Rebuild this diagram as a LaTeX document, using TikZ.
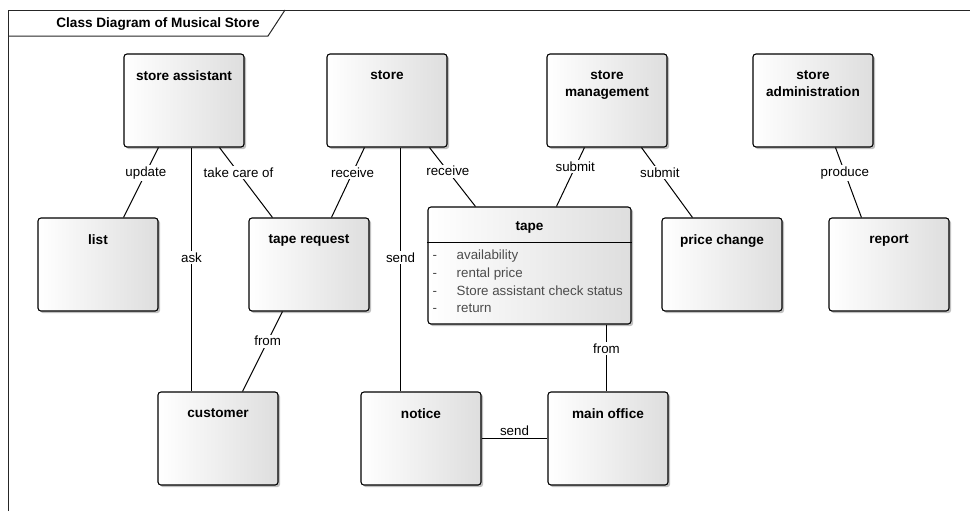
\documentclass[tikz,border=0pt]{standalone}
\usepackage{fontspec}
\setmainfont{Liberation Sans}
\usetikzlibrary{calc,shadows}

\tikzset{
  every picture/.style={x=0.75pt,y=-0.75pt},
  cls/.style={draw=black, line width=0.8pt, rounded corners=2.2pt,
    left color=white, right color=black!13,
    drop shadow={shadow xshift=1.6pt, shadow yshift=-1.6pt, fill=black!45, opacity=0.55},
    minimum width=90pt, minimum height=69.75pt, inner sep=0pt},
  clstitle/.style={anchor=north, inner sep=0pt, align=center,
    font=\bfseries\fontsize{10.2}{12.75}\selectfont},
  assoc/.style={draw=black, line width=0.75pt},
  lbl/.style={fill=white, inner sep=1.2pt, font=\fontsize{10}{12}\selectfont},
  attr/.style={anchor=base west, inner sep=0pt, text=black!70, font=\fontsize{10}{12}\selectfont},
  frameline/.style={draw=black!85, line width=0.75pt}
}

\begin{document}
\begin{tikzpicture}
\useasboundingbox (0,0) rectangle (970,511);

% diagram frame with its title tab
\draw[frameline] (8,511) -- (8,10) -- (970,10);
\draw[frameline] (8,36) -- (268,36) -- (285,10);
\node[font=\bfseries\fontsize{10.2}{12}\selectfont, inner sep=0pt] (frametitle) at (158,24) {Class Diagram of Musical Store};

% classes
\node[cls] (sa) at (184,100.5) {};
\node[clstitle] (satitle) at ($(sa.north)+(0,16.5)$) {store assistant};

\node[cls] (store) at (387,100.5) {};
\node[clstitle] (storetitle) at ($(store.north)+(0,16.5)$) {store};

\node[cls] (mgmt) at (607,100.5) {};
\node[clstitle] (mgmttitle) at ($(mgmt.north)+(0,16.5)$) {store\\management};

\node[cls] (admin) at (813,100.5) {};
\node[clstitle] (admintitle) at ($(admin.north)+(0,16.5)$) {store\\administration};

\node[cls] (list) at (98,264.5) {};
\node[clstitle] (listtitle) at ($(list.north)+(0,16.5)$) {list};

\node[cls] (treq) at (309,264.5) {};
\node[clstitle] (treqtitle) at ($(treq.north)+(0,16.5)$) {tape request};

\node[cls] (price) at (722,264.5) {};
\node[clstitle] (pricetitle) at ($(price.north)+(0,16.5)$) {price change};

\node[cls] (report) at (889,264.5) {};
\node[clstitle] (reporttitle) at ($(report.north)+(0,16.5)$) {report};

\node[cls] (cust) at (218,438.5) {};
\node[clstitle] (custtitle) at ($(cust.north)+(0,16.5)$) {customer};

\node[cls] (notice) at (421,438.5) {};
\node[clstitle] (noticetitle) at ($(notice.north)+(0,16.5)$) {notice};

\node[cls] (office) at (608,438.5) {};
\node[clstitle] (officetitle) at ($(office.north)+(0,16.5)$) {main office};

% tape class with its attribute compartment
\node[cls, minimum width=152.25pt, minimum height=87.75pt] (tape) at (529.5,265.5) {};
\node[clstitle] (tapetitle) at ($(tape.north)+(0,15)$) {tape};
\draw[line width=0.75pt] ($(tape.north west)+(0,36)$) -- ($(tape.north east)+(0,36)$);
\foreach \i/\t/\yy in {1/availability/53, 2/rental price/71, 3/Store assistant check status/89, 4/return/106}{
  \node[attr] (dash\i) at ($(tape.north west)+(5,\yy)$) {-};
  \node[attr] (attr\i) at ($(tape.north west)+(29,\yy)$) {\t};
}

% associations
\draw[assoc] ($(sa.south west)+(35,0)$) -- node[lbl, pos=0.36] {update} ($(list.north west)+(86,0)$);
\draw[assoc] ($(sa.south west)+(68,0)$) -- node[lbl, pos=0.45] {ask} ($(cust.north west)+(34,0)$);
\draw[assoc] ($(sa.south west)+(96,0)$) -- node[lbl, pos=0.36] {take care of} ($(treq.north west)+(24,0)$);
\draw[assoc] ($(store.south west)+(38,0)$) -- node[lbl, pos=0.36] {receive} ($(treq.north west)+(83,0)$);
\draw[assoc] ($(store.south west)+(74,0)$) -- node[lbl, pos=0.45] {send} ($(notice.north west)+(40,0)$);
\draw[assoc] ($(store.south west)+(103,0)$) -- node[lbl, pos=0.4] {receive} ($(tape.north west)+(48,0)$);
\draw[assoc] ($(mgmt.south west)+(38,0)$) -- node[lbl, pos=0.33] {submit} ($(tape.north west)+(129,0)$);
\draw[assoc] ($(mgmt.south west)+(95,0)$) -- node[lbl, pos=0.36] {submit} ($(price.north west)+(31,0)$);
\draw[assoc] ($(admin.south west)+(83,0)$) -- node[lbl, pos=0.36] {produce} ($(report.north west)+(33,0)$);
\draw[assoc] ($(treq.south west)+(34,0)$) -- node[lbl, pos=0.37] {from} ($(cust.north west)+(85,0)$);
\draw[assoc] ($(tape.south west)+(179,0)$) -- node[lbl, pos=0.36] {from} ($(office.north west)+(59,0)$);
\draw[assoc] (notice.east) -- node[above, inner sep=2pt, font=\fontsize{10}{12}\selectfont] {send} (office.west);
\end{tikzpicture}
\end{document}
